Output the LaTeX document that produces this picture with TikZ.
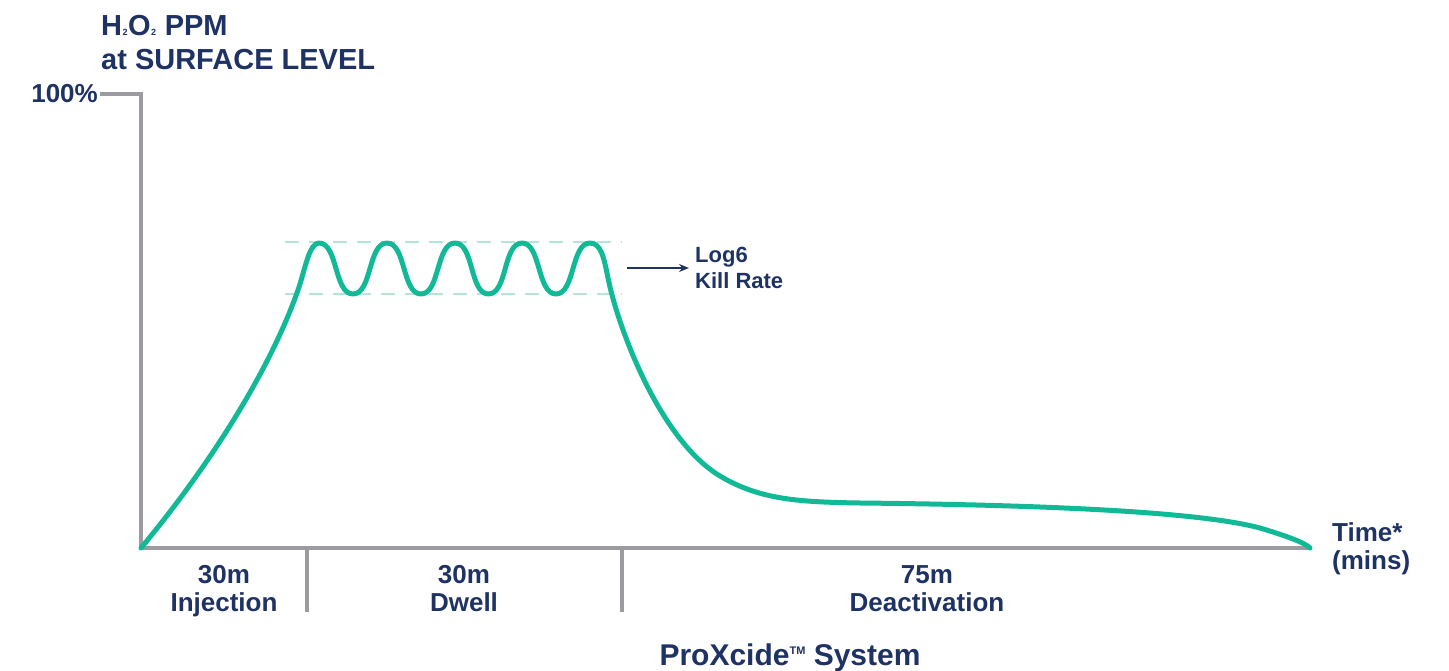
\documentclass[tikz,border=0pt]{standalone}
\usepackage{fontspec}
\setmainfont{Liberation Sans}
\usetikzlibrary{arrows.meta}
\definecolor{navy}{RGB}{30,50,100}
\definecolor{axisgray}{RGB}{155,155,160}
\definecolor{curveteal}{RGB}{18,185,150}
\definecolor{lightteal}{RGB}{180,229,214}
\tikzset{
  lbl/.style={text=navy, font=\bfseries\fontsize{26}{28}\selectfont, inner sep=0pt},
  titlelbl/.style={text=navy, font=\bfseries\fontsize{29}{34}\selectfont, inner sep=0pt},
  smalllbl/.style={text=navy, font=\bfseries\fontsize{22}{25}\selectfont, inner sep=0pt},
  axisline/.style={draw=axisgray, line width=4.2pt, line join=miter},
  tickline/.style={draw=axisgray, line width=3.5pt},
  curveline/.style={draw=curveteal, line width=5pt, line cap=round, line join=round},
  bandline/.style={draw=lightteal, line width=2.8pt, dash pattern=on 14pt off 10pt},
  arrowline/.style={draw=navy, line width=1.8pt, -{Stealth[length=10pt,width=8pt]}}
}
\newcommand{\tinysub}[1]{{\fontsize{9}{9}\selectfont\kern0.5pt#1\kern0.5pt}}
\begin{document}
\begin{tikzpicture}[x=1pt,y=-1pt]
\useasboundingbox (0,0) rectangle (1449,671);

% titles
\node[titlelbl, anchor=base west] (title1) at (101,36) {H\tinysub{2}O\tinysub{2} PPM};
\node[titlelbl, anchor=base west] (title2) at (101,70) {at SURFACE LEVEL};
\node[lbl, anchor=base east] (hundred) at (98,103) {100\%};

% band lines
\coordinate (bandTL) at (285,242);
\coordinate (bandTR) at (622,242);
\coordinate (bandBL) at (285,294);
\coordinate (bandBR) at (622,294);
\draw[bandline] (bandTL) -- (bandTR);
\draw[bandline] (bandBL) -- (bandBR);

% axes
\coordinate (topTick) at (100,94);
\coordinate (yTop) at (141,94);
\coordinate (origin) at (141,548);
\coordinate (xEnd) at (1312,548);
\draw[axisline] (topTick) -- (yTop) -- (origin) -- (xEnd);

% phase separators
\coordinate (sep1a) at (307,548);
\coordinate (sep1b) at (307,612);
\coordinate (sep2a) at (622,548);
\coordinate (sep2b) at (622,612);
\draw[tickline] (sep1a) -- (sep1b);
\draw[tickline] (sep2a) -- (sep2b);

% curve
\draw[curveline] (origin)
  .. controls (210,465) and (270,370) .. (298,290)
  .. controls (305,270) and (309,243) .. (319,243)
  .. controls (338,243) and (334,294) .. (353,294)
  .. controls (372,294) and (368,243) .. (387,243)
  .. controls (406,243) and (402,294) .. (421,294)
  .. controls (440,294) and (436,243) .. (455,243)
  .. controls (474,243) and (469.5,294) .. (488.5,294)
  .. controls (507.5,294) and (503,243) .. (522,243)
  .. controls (541,243) and (537,294) .. (556,294)
  .. controls (575,294) and (571,243) .. (590,243)
  .. controls (601,243) and (604,258) .. (608,278)
  .. controls (618,328) and (660,440) .. (720,476)
  .. controls (760,500) and (800,502) .. (860,503)
  .. controls (1050,505) and (1200,512) .. (1260,528)
  .. controls (1290,537) and (1305,543) .. (1310,548);

% kill rate
\coordinate (arrS) at (627,268);
\coordinate (arrE) at (689,268);
\draw[arrowline] (arrS) -- (arrE);
\node[smalllbl, anchor=base west] (log6) at (695,263) {Log6};
\node[smalllbl, anchor=base west] (kill) at (695,288) {Kill Rate};

% phase labels
\node[lbl, anchor=base] (inj1) at (224,583) {30m};
\node[lbl, anchor=base] (inj2) at (224,611) {Injection};
\node[lbl, anchor=base] (dw1) at (464,583) {30m};
\node[lbl, anchor=base] (dw2) at (464,611) {Dwell};
\node[lbl, anchor=base] (de1) at (927,583) {75m};
\node[lbl, anchor=base] (de2) at (927,611) {Deactivation};

% time axis label
\node[lbl, anchor=base west] (time1) at (1332,541) {Time*};
\node[lbl, anchor=base west] (time2) at (1332,569) {(mins)};

% system label
\node[text=navy, font=\bfseries\fontsize{30}{34}\selectfont, inner sep=0pt, anchor=base] (sys) at (790,665)
  {ProXcide\raisebox{11pt}{\fontsize{11}{11}\selectfont TM} System};
\end{tikzpicture}
\end{document}
